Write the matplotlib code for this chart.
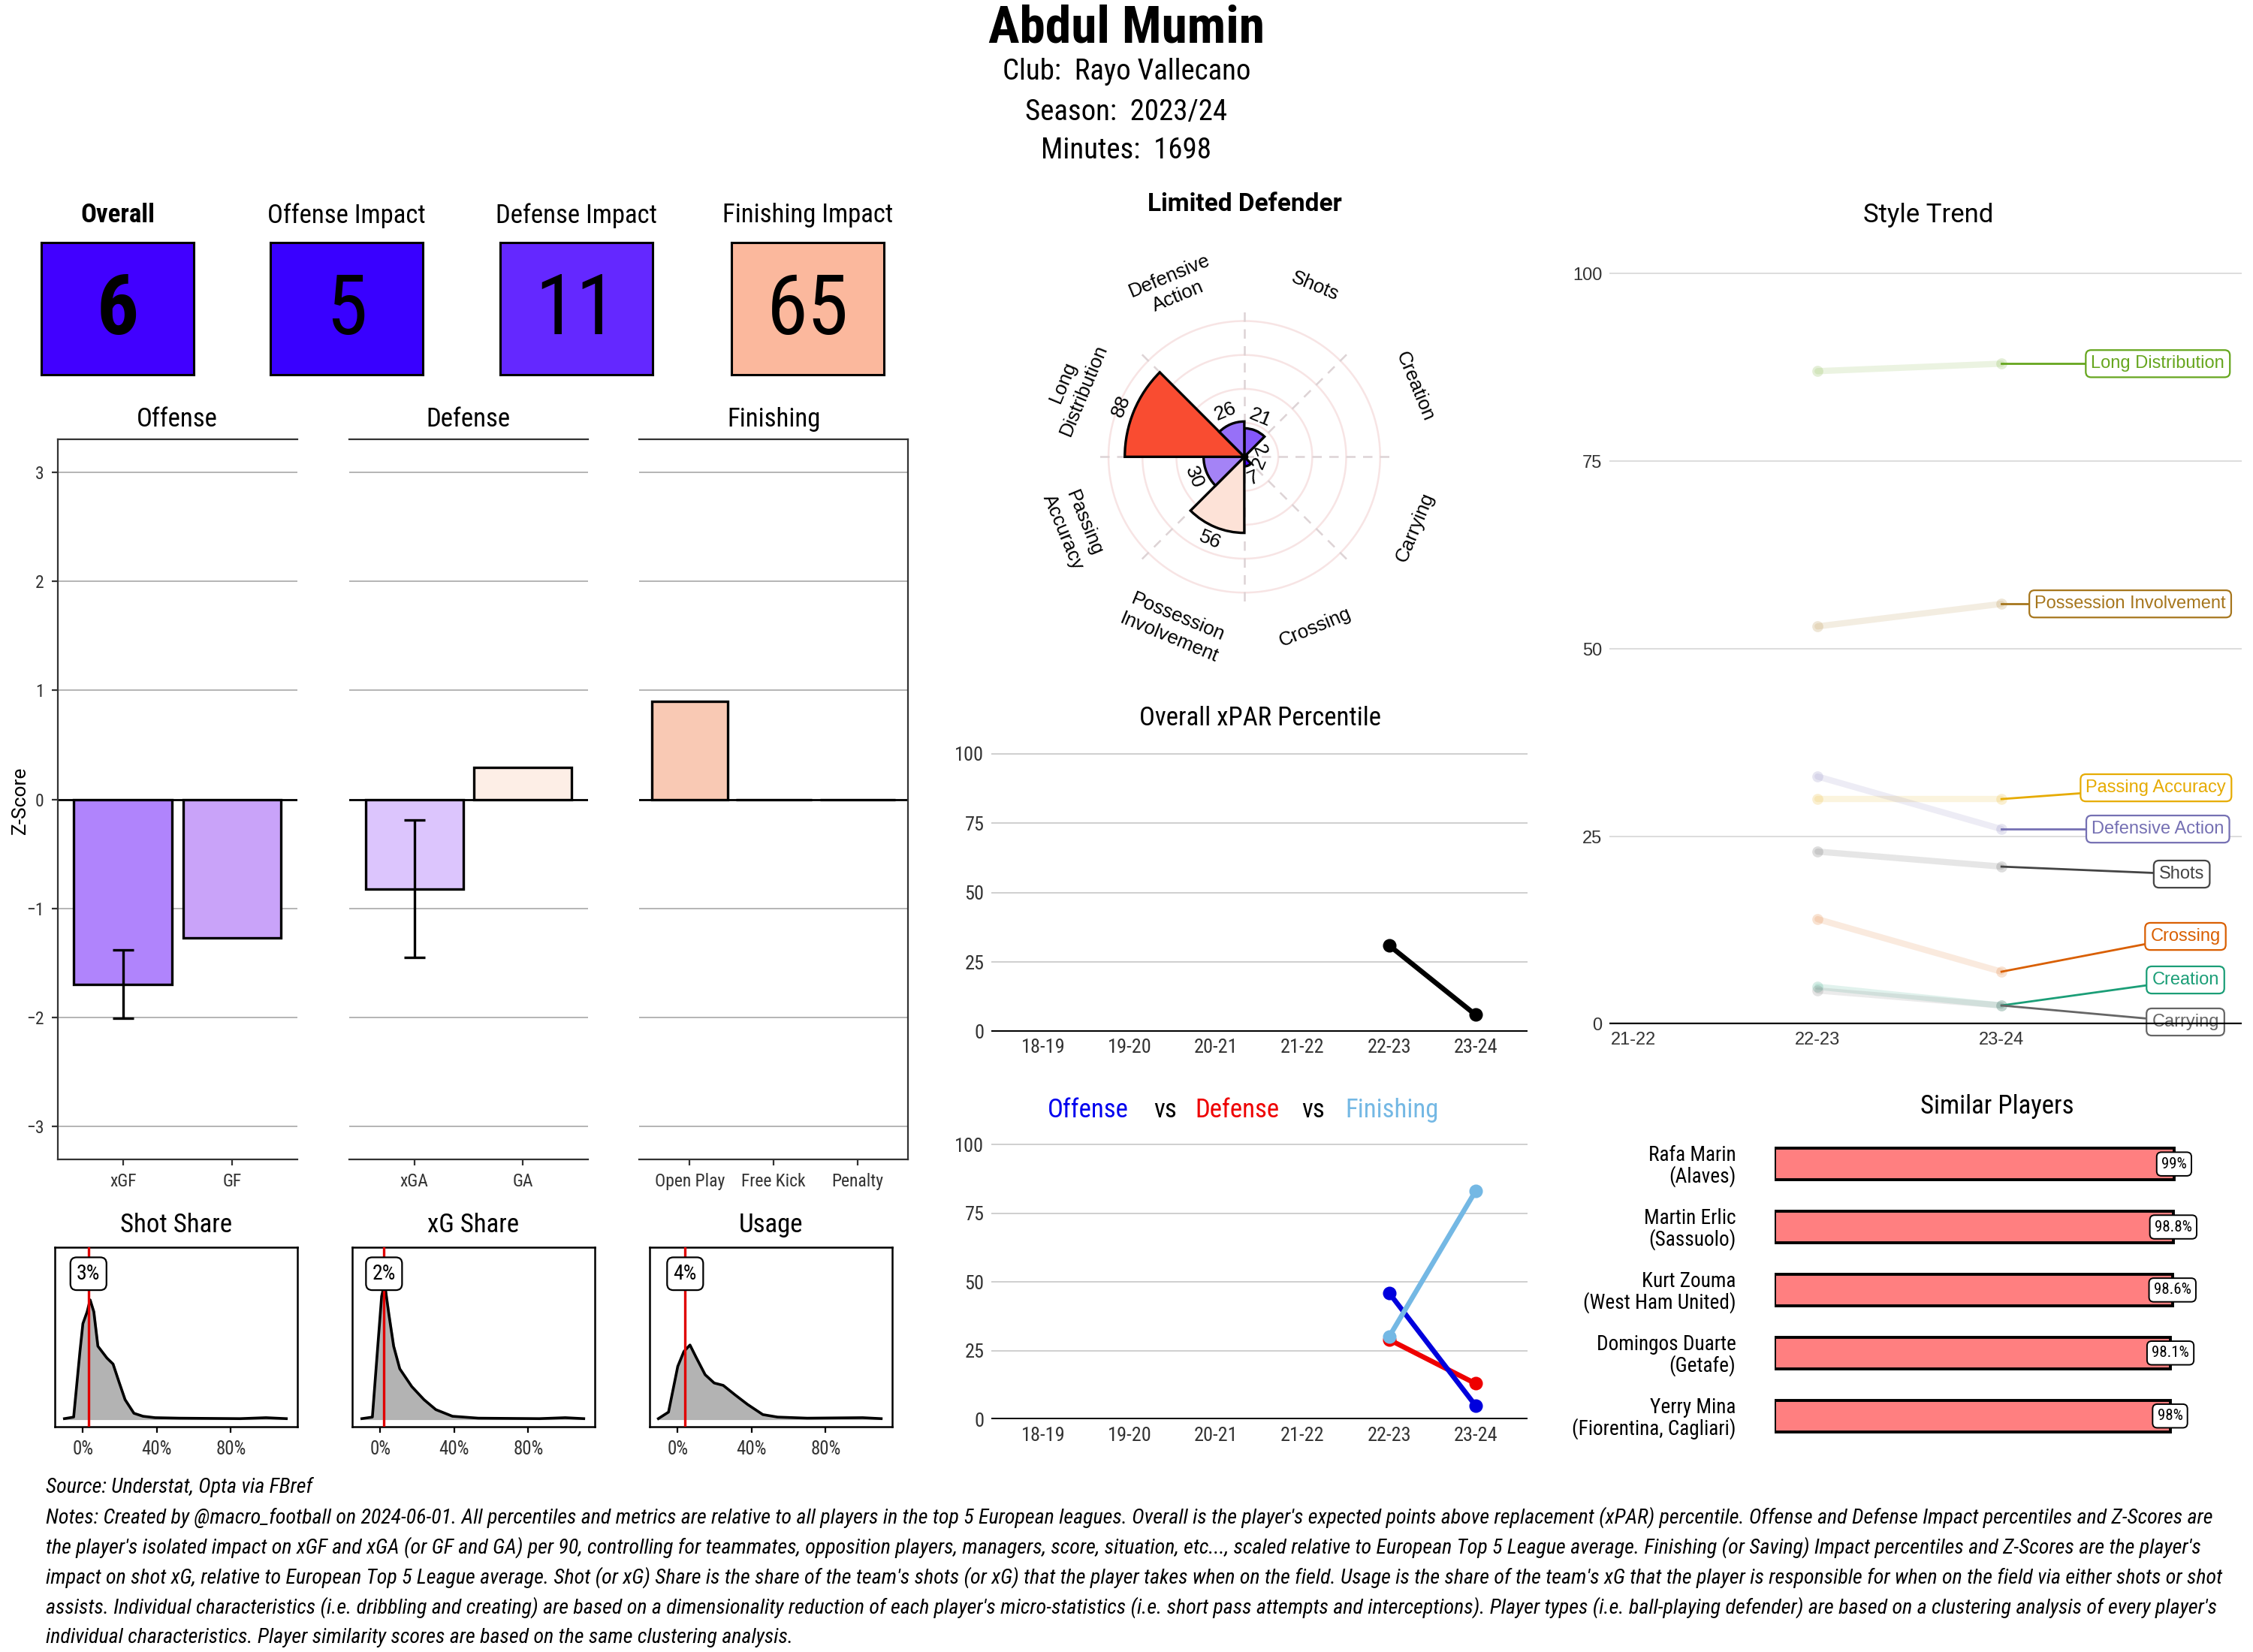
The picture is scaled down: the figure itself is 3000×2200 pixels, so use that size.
import numpy as np
import matplotlib
matplotlib.use('Agg')
import matplotlib.pyplot as plt
from matplotlib import font_manager as fm
from matplotlib.colors import LinearSegmentedColormap

# fonts - take what is installed
names = {f.name for f in fm.fontManager.ttflist}
def pick(*cands):
    for c in cands:
        if c in names:
            return c
    return 'DejaVu Sans'
COND = pick('Roboto Condensed', 'Liberation Sans Narrow', 'Roboto')
REG = pick('Roboto', 'Liberation Sans')
ARIAL = pick('Liberation Sans', 'DejaVu Sans')

# ---------------- data ----------------
player = 'Abdul Mumin'
club = 'Rayo Vallecano'
season = '2023/24'
minutes = 1698
player_type = 'Limited Defender'

impact_labels = ['Overall', 'Offense Impact', 'Defense Impact', 'Finishing Impact']
impact_values = [6, 5, 11, 65]

off_cats = ['xGF', 'GF']
off_z = [-1.70, -1.27]
off_lo = [-2.01, np.nan]
off_hi = [-1.38, np.nan]
def_cats = ['xGA', 'GA']
def_z = [-0.82, 0.29]
def_lo = [-1.45, np.nan]
def_hi = [-0.19, np.nan]
fin_cats = ['Open Play', 'Free Kick', 'Penalty']
fin_z = [0.90, 0.0, 0.0]
off_cols = ['#b084fc', '#c9a3f9']
def_cols = ['#dcc5fd', '#fdeee6']
fin_cols = ['#f9c9b4', '#ffffff', '#ffffff']

# density curves (share, density)
shot_x = [-0.10, -0.05, -0.016, 0.0, 0.023, 0.039, 0.059, 0.081, 0.13, 0.163, 0.195, 0.228, 0.276, 0.325, 0.39, 0.52, 0.85, 0.99, 1.10]
shot_y = [0.0, 0.013, 0.565, 0.80, 0.90, 1.0, 0.90, 0.61, 0.51, 0.46, 0.31, 0.16, 0.045, 0.02, 0.008, 0.004, 0.0, 0.008, 0.0]
xg_x = [-0.10, -0.043, -0.016, 0.007, 0.023, 0.046, 0.072, 0.105, 0.17, 0.236, 0.30, 0.39, 0.53, 0.86, 1.0, 1.10]
xg_y = [0.0, 0.013, 0.565, 1.03, 1.14, 0.88, 0.61, 0.42, 0.27, 0.16, 0.076, 0.02, 0.004, 0.0, 0.008, 0.0]
use_x = [-0.105, -0.05, 0.0, 0.033, 0.066, 0.098, 0.148, 0.197, 0.246, 0.31, 0.377, 0.46, 0.54, 0.70, 1.0, 1.10]
use_y = [0.0, 0.055, 0.44, 0.565, 0.62, 0.52, 0.37, 0.30, 0.28, 0.20, 0.12, 0.034, 0.013, 0.004, 0.008, 0.0]
share_titles = ['Shot Share', 'xG Share', 'Usage']
share_player = [0.03, 0.02, 0.04]

# radar (clockwise from top)
radar_cats = ['Shots', 'Creation', 'Carrying', 'Crossing', 'Possession\nInvolvement',
              'Passing\nAccuracy', 'Long\nDistribution', 'Defensive\nAction']
radar_vals = [21, 2, 2, 7, 56, 30, 88, 26]

seasons = ['18-19', '19-20', '20-21', '21-22', '22-23', '23-24']
xpar_pct = [np.nan, np.nan, np.nan, np.nan, 31, 6]
off_pct = [np.nan, np.nan, np.nan, np.nan, 46, 5]
def_pct = [np.nan, np.nan, np.nan, np.nan, 29, 13]
fin_pct = [np.nan, np.nan, np.nan, np.nan, 30, 83]

trend_seasons = ['21-22', '22-23', '23-24']
trend_cats = ['Long Distribution', 'Possession Involvement', 'Passing Accuracy', 'Defensive Action',
              'Shots', 'Crossing', 'Creation', 'Carrying']
trend_prev = [87, 53, 30, 33, 23, 14, 5, 4.5]
trend_now = [88, 56, 30, 26, 21, 7, 2.5, 2.5]
trend_cols = ['#66a61e', '#a6761d', '#e6ab02', '#7570b3', '#444444', '#d95f02', '#1b9e77', '#666666']
lab_x = [2.85, 2.70, 2.84, 2.85, 2.98, 3.0, 3.0, 3.0]
lab_y = [88, 56, 31.5, 26, 20, 11.7, 5.9, 0.3]

sim_names = ['Rafa Marin\n(Alaves)', 'Martin Erlic\n(Sassuolo)', 'Kurt Zouma\n(West Ham United)',
             'Domingos Duarte\n(Getafe)', 'Yerry Mina\n(Fiorentina, Cagliari)']
sim_vals = [99, 98.8, 98.6, 98.1, 98]

source = 'Source: Understat, Opta via FBref'
notes = [
    "Notes: Created by @macro_football on 2024-06-01. All percentiles and metrics are relative to all players in the top 5 European leagues. Overall is the player's expected points above replacement (xPAR) percentile. Offense and Defense Impact percentiles and Z-Scores are",
    "the player's isolated impact on xGF and xGA (or GF and GA) per 90, controlling for teammates, opposition players, managers, score, situation, etc..., scaled relative to European Top 5 League average. Finishing (or Saving) Impact percentiles and Z-Scores are the player's",
    "impact on shot xG, relative to European Top 5 League average. Shot (or xG) Share is the share of the team's shots (or xG) that the player takes when on the field. Usage is the share of the team's xG that the player is responsible for when on the field via either shots or shot",
    "assists. Individual characteristics (i.e. dribbling and creating) are based on a dimensionality reduction of each player's micro-statistics (i.e. short pass attempts and interceptions). Player types (i.e. ball-playing defender) are based on a clustering analysis of every player's",
    "individual characteristics. Player similarity scores are based on the same clustering analysis.",
]

pct_cmap = LinearSegmentedColormap.from_list('pct', [(0, '#1a00ff'), (0.06, '#4200ff'), (0.11, '#6428ff'),
                                                     (0.3, '#a584f6'), (0.5, '#ffffff'), (0.65, '#fbb89d'),
                                                     (0.88, '#f94d32'), (1, '#ff2a00')])
def pct_color(p):
    return pct_cmap(p / 100)

# figure, positions worked out on a 1568 x 1150 grid
W, H = 1568.0, 1150.0
def rect(x0, y0, x1, y1):
    return [x0 / W, 1 - y1 / H, (x1 - x0) / W, (y1 - y0) / H]
def fx(x): return x / W
def fy(y): return 1 - y / H

fig = plt.figure(figsize=(15, 11), dpi=200)
fig.patch.set_facecolor('white')

# header
fig.text(0.5, fy(20), player, ha='center', va='center', fontsize=25, fontweight='bold', family=COND)
fig.text(0.5, fy(50), f'Club:  {club}', ha='center', va='center', fontsize=14, family=COND)
fig.text(0.5, fy(78), f'Season:  {season}', ha='center', va='center', fontsize=14, family=COND)
fig.text(0.5, fy(105), f'Minutes:  {minutes}', ha='center', va='center', fontsize=14, family=COND)

# impact boxes
box_left = [29, 188, 348, 509]
for i, (lab, val) in enumerate(zip(impact_labels, impact_values)):
    ax = fig.add_axes(rect(box_left[i], 169, box_left[i] + 106, 261))
    ax.set_facecolor(pct_color(val))
    ax.set_xticks([]); ax.set_yticks([])
    for s in ax.spines.values():
        s.set_linewidth(1.1); s.set_color('black')
    ax.text(0.5, 0.48, str(val), transform=ax.transAxes, ha='center', va='center', fontsize=40, family=COND,
            fontweight='bold' if i == 0 else 'normal')
    fig.text(fx(box_left[i] + 53), fy(150), lab, ha='center', va='center', fontsize=12.5, family=COND,
             fontweight='bold' if i == 0 else 'normal')

# z-score panels
def zpanel(r, cats, vals, cols, title, lo, hi, spines):
    ax = fig.add_axes(r)
    x = np.arange(len(cats))
    ax.bar(x, vals, width=0.9, color=cols, edgecolor='black', linewidth=1.2, zorder=3)
    for xi, a, b in zip(x, lo, hi):
        if not np.isnan(a):
            ax.errorbar([xi], [(a + b) / 2], yerr=[(b - a) / 2], fmt='none', ecolor='black',
                        elinewidth=1.2, capsize=5, capthick=1.2, zorder=4)
    ax.set_xlim(-0.6, len(cats) - 0.4)
    ax.set_ylim(-3.3, 3.3)
    ax.set_yticks(range(-3, 4))
    ax.grid(axis='y', color='#a8a8a8', lw=0.6, zorder=0)
    ax.axhline(0, color='black', lw=1.0, zorder=2)
    ax.set_xticks(x)
    ax.set_xticklabels(cats, fontsize=8.5, family=COND, color='#333333')
    for k, s in ax.spines.items():
        s.set_visible(k in spines)
        s.set_color('#333333'); s.set_linewidth(0.8)
    if 'left' in spines:
        ax.tick_params(axis='y', labelsize=8.5, length=3, color='#333333', labelcolor='#333333')
        for t in ax.get_yticklabels():
            t.set_family(COND)
    else:
        ax.tick_params(axis='y', left=False, labelleft=False)
    ax.tick_params(axis='x', length=3, color='#333333')
    fig.text(r[0] + r[2] / 2, fy(292), title, ha='center', va='center', fontsize=12.5, family=COND)
    return ax

zpanel(rect(40, 306, 207, 807), off_cats, off_z, off_cols, 'Offense', off_lo, off_hi, ['left', 'top', 'bottom'])
zpanel(rect(243, 306, 409, 807), def_cats, def_z, def_cols, 'Defense', def_lo, def_hi, ['top', 'bottom'])
zpanel(rect(445, 306, 632, 807), fin_cats, fin_z, fin_cols, 'Finishing', [np.nan] * 3, [np.nan] * 3,
       ['top', 'bottom', 'right'])
fig.text(fx(14), fy(557), 'Z-Score', rotation=90, ha='center', va='center', fontsize=9.5, family=REG)

# share densities
dens_left = [38, 245, 452]
for i, (xs, ys) in enumerate([(shot_x, shot_y), (xg_x, xg_y), (use_x, use_y)]):
    ax = fig.add_axes(rect(dens_left[i], 868, dens_left[i] + 169, 993))
    ax.fill_between(xs, ys, 0, color='#b3b3b3', zorder=2)
    ax.plot(xs, ys, color='black', lw=1.3, zorder=3)
    ax.axvline(share_player[i], color='#e00000', lw=1.2, zorder=4)
    ax.text(share_player[i], 1.22, f'{share_player[i] * 100:.0f}%', ha='center', va='center', fontsize=10,
            family=COND, zorder=5,
            bbox=dict(boxstyle='round,pad=0.3', fc='white', ec='black', lw=0.8))
    ax.set_xlim(-0.153, 1.16)
    ax.set_ylim(-0.066, 1.446)
    ax.set_yticks([])
    ax.set_xticks([0, 0.4, 0.8])
    ax.set_xticklabels(['0%', '40%', '80%'], fontsize=9, family=COND, color='#333333')
    ax.tick_params(axis='x', length=3)
    for s in ax.spines.values():
        s.set_linewidth(0.9); s.set_color('black')
    fig.text(fx(dens_left[i] + 84.5), fy(853), share_titles[i], ha='center', va='center', fontsize=12.5,
             family=COND)

# radar
cx, cy, rad_px = 866, 318, 104
axp = fig.add_axes(rect(cx - rad_px, cy - rad_px, cx + rad_px, cy + rad_px), projection='polar')
axp.set_theta_zero_location('N')
axp.set_theta_direction(-1)
axp.set_ylim(0, 110)
axp.axis('off')
ring_t = np.linspace(0, 2 * np.pi, 300)
for r0 in [25, 50, 75, 100]:
    axp.plot(ring_t, [r0] * len(ring_t), color='#f7e4e4', lw=0.9, zorder=0)
for a in range(0, 360, 45):
    axp.plot([np.deg2rad(a)] * 2, [0, 110], color='#ddd3d5', lw=0.9, ls=(0, (5, 4)), zorder=0)
theta = np.deg2rad(np.arange(len(radar_cats)) * 45 + 22.5)
axp.bar(theta, radar_vals, width=np.deg2rad(45), color=[pct_color(v) for v in radar_vals],
        edgecolor='black', linewidth=1.2, zorder=3)
for th, lab, v in zip(theta, radar_cats, radar_vals):
    deg = np.rad2deg(th)
    rot = -deg
    if rot < -90:
        rot += 180
    if rot < -90:
        rot += 180
    axp.text(th, 136, lab, rotation=rot, rotation_mode='anchor', ha='center', va='center', fontsize=9.3,
             family=ARIAL, linespacing=1.3)
    axp.text(th, v + 10, str(v), rotation=rot, rotation_mode='anchor', ha='center', va='center',
             fontsize=9.5, family=ARIAL, zorder=5)
fig.text(fx(866), fy(142), player_type, ha='center', va='center', fontsize=12, fontweight='bold', family=REG)

# season lines
def season_axes(r):
    ax = fig.add_axes(r)
    ax.set_xlim(-0.6, len(seasons) - 0.4)
    ax.set_ylim(0, 104)
    ax.set_yticks([0, 25, 50, 75, 100])
    ax.set_xticks(range(len(seasons)))
    ax.set_xticklabels(seasons, fontsize=9.5, family=COND, color='#333333')
    for t in ax.get_yticklabels():
        t.set_family(COND)
    ax.tick_params(length=0, labelsize=9.5, labelcolor='#333333')
    ax.grid(axis='y', color='#cfcfcf', lw=0.7, zorder=0)
    ax.axhline(0, color='black', lw=1.8, zorder=2)
    for s in ax.spines.values():
        s.set_visible(False)
    return ax

ax = season_axes(rect(690, 517, 1063, 718))
ax.plot(range(len(seasons)), xpar_pct, color='black', lw=2.4, marker='o', ms=5.5, zorder=3)
fig.text(fx(877), fy(500), 'Overall xPAR Percentile', ha='center', va='center', fontsize=12.5, family=COND)

ax = season_axes(rect(690, 789, 1063, 988))
ax.plot(range(len(seasons)), def_pct, color='#ee0000', lw=2.4, marker='o', ms=5.5, zorder=3)
ax.plot(range(len(seasons)), off_pct, color='#0000dd', lw=2.4, marker='o', ms=5.5, zorder=4)
ax.plot(range(len(seasons)), fin_pct, color='#74b8e4', lw=2.4, marker='o', ms=5.5, zorder=5)
for word, xw, col in [('Offense', 757, '#0000ee'), ('vs', 811, 'black'), ('Defense', 861, '#ee0000'),
                      ('vs', 914, 'black'), ('Finishing', 969, '#74b8e4')]:
    fig.text(fx(xw), fy(773), word, ha='center', va='center', fontsize=12.5, family=COND, color=col)

# style trend
ax = fig.add_axes(rect(1120, 180, 1560, 713))
ax.set_xlim(-0.133, 3.305)
ax.set_ylim(0, 102)
ax.set_yticks([0, 25, 50, 75, 100])
ax.set_xticks(range(len(trend_seasons)))
ax.set_xticklabels(trend_seasons, family=ARIAL, fontsize=8.5, color='#333333')
for t in ax.get_yticklabels():
    t.set_family(ARIAL)
ax.tick_params(length=0, labelsize=8.5, labelcolor='#333333')
ax.grid(axis='y', color='#dddddd', lw=0.7, zorder=0)
for s in ax.spines.values():
    s.set_visible(False)
for i, cat in enumerate(trend_cats):
    c = trend_cols[i]
    ax.plot([1, 2], [trend_prev[i], trend_now[i]], color=c, alpha=0.13, lw=3, solid_capstyle='round', zorder=2)
    ax.scatter([1, 2], [trend_prev[i], trend_now[i]], color=c, alpha=0.18, s=28, zorder=2, linewidths=0)
    ax.plot([2, lab_x[i]], [trend_now[i], lab_y[i]], color=c, lw=1.0, zorder=3)
    ax.text(lab_x[i], lab_y[i], cat, color=c, ha='center', va='center', fontsize=8.5, family=ARIAL, zorder=4,
            bbox=dict(boxstyle='round,pad=0.3', fc='white', ec=c, lw=0.8))
ax.axhline(0, color='black', lw=1.6, zorder=5)
fig.text(fx(1342), fy(150), 'Style Trend', ha='center', va='center', fontsize=12.5, family=REG)

# similar players
ax = fig.add_axes(rect(1235, 784, 1558, 1012))
yy = np.arange(len(sim_vals))
ax.barh(yy, sim_vals, height=0.5, color='#ff7f80', edgecolor='black', linewidth=1.4)
ax.set_xlim(0, 115)
ax.set_ylim(len(sim_vals) - 0.4, -0.6)
ax.set_yticks(yy)
ax.set_yticklabels(sim_names, fontsize=9.8, family=COND, linespacing=1.0)
ax.tick_params(left=False, bottom=False, labelbottom=False, pad=15)
for s in ax.spines.values():
    s.set_visible(False)
for yi, v in zip(yy, sim_vals):
    ax.text(v, yi, f'{v:g}%', ha='center', va='center', fontsize=7.5, family=COND,
            bbox=dict(boxstyle='round,pad=0.3', fc='white', ec='black', lw=0.7))
fig.text(fx(1390), fy(770), 'Similar Players', ha='center', va='center', fontsize=12.5, family=COND)

# source and notes, shrink the notes to fit the width
src_txt = fig.text(fx(32), fy(1035), source, ha='left', va='center', fontsize=9, family=COND, style='italic')
note_txt = []
for k, line in enumerate(notes):
    note_txt.append(fig.text(fx(32), fy(1056 + 21 * k), line, ha='left', va='center', fontsize=9,
                             family=COND, style='italic'))
renderer = fig.canvas.get_renderer()
wid = note_txt[0].get_window_extent(renderer).width / fig.bbox.width
scale = (1511 / W) / wid
for t in note_txt + [src_txt]:
    t.set_fontsize(9 * scale)

fig.savefig('out.png', dpi=200, facecolor='white')
